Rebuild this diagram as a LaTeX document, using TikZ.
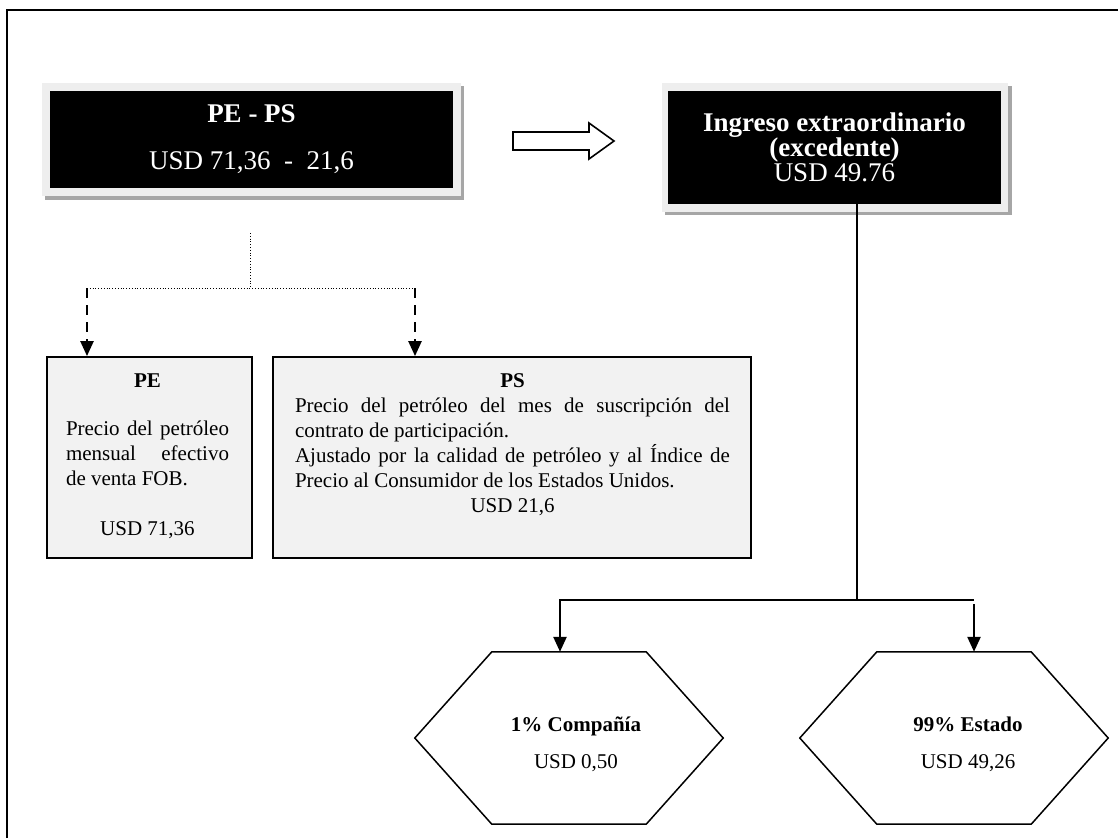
\documentclass[tikz,border=0pt]{standalone}
\usepackage{fontspec}
\setmainfont{Liberation Serif}
\usepackage{xcolor}
\usetikzlibrary{arrows.meta}
\setlength{\parindent}{0pt}
\definecolor{boxgray}{HTML}{F2F2F2}
\definecolor{framegray}{HTML}{EEEEEE}
\definecolor{shadegray}{HTML}{A6A6A6}

\begin{document}
\begin{tikzpicture}[x=1pt,y=-1pt,
    headbox/.style={fill=black, text=white, align=center, inner sep=0pt},
    infobox/.style={draw, line width=1.8pt, fill=boxgray, inner sep=0pt},
    boxtext/.style={anchor=north, inner sep=0pt, align=justify, font=\fontsize{21}{25}\selectfont},
    hexa/.style={inner sep=0pt, minimum width=308, minimum height=172},
    hextext/.style={align=center, inner sep=0pt, font=\fontsize{21}{37}\selectfont},
    link/.style={line width=2.4pt, -{Triangle[width=13pt,length=15pt]}},
    dashlink/.style={line width=2.4pt, dash pattern=on 10pt off 7pt, -{Triangle[width=13pt,length=15pt]}},
    dotline/.style={line width=0.8pt, dotted}]
    \useasboundingbox (0,0) rectangle (1118,838);

    % page frame
    \draw[line width=2.5pt] (7,838) -- (7,10) -- (1118,10);

    % frames round the two black boxes
    \fill[shadegray] (45,86) rectangle (464,200);
    \fill[framegray] (42,83) rectangle (461,196);
    \fill[shadegray] (665,86) rectangle (1012,215);
    \fill[framegray] (662,83) rectangle (1008,212);

    \node[headbox, minimum width=403, minimum height=97, font=\fontsize{27}{47}\selectfont] (peps) at (251.5,139.5)
        {\textbf{PE - PS}\\USD 71,36~~-~~21,6};
    \node[headbox, minimum width=333, minimum height=113, font=\fontsize{27}{25}\selectfont] (ingreso) at (834.5,147.5)
        {\textbf{Ingreso extraordinario}\\\textbf{(excedente)}\\USD 49.76};

    % hollow arrow
    \draw[line width=1.6pt] (513,132) -- (589,132) -- (589,123) -- (614,141) -- (589,159) -- (589,150) -- (513,150) -- cycle;

    \node[infobox, minimum width=205, minimum height=201] (pe) at (149.5,457.5) {};
    \node[infobox, minimum width=478, minimum height=201] (ps) at (512,457.5) {};

    \node[boxtext, text width=163pt] (peTxt) at ([xshift=-2pt,yshift=-17pt]pe.north) {%
        {\centering\bfseries PE\par}\vspace{23pt}
        Precio del petróleo\linebreak mensual efectivo\linebreak de venta FOB.\par\vspace{25pt}
        {\centering USD 71,36\par}};
    \node[boxtext, text width=435pt] (psTxt) at ([xshift=0.5pt,yshift=-17pt]ps.north) {%
        {\centering\bfseries PS\par}
        Precio del petróleo del mes de suscripción del\linebreak contrato de participación.\par
        Ajustado por la calidad de petróleo y al Índice de\linebreak Precio al Consumidor de los Estados Unidos.\par
        {\centering USD 21,6\par}};

    \coordinate (fork) at (250,233);
    \coordinate (forkjoin) at (250,288);
    \coordinate (brL) at (87,288);
    \coordinate (brR) at (415,288);
    \draw[dotline] (fork) -- (forkjoin);
    \draw[dotline] (brL) -- (brR);
    \draw[dashlink] (brL) -- (brL |- pe.north);
    \draw[dashlink] (brR) -- (brR |- ps.north);

    % hexagons
    \node[hexa] (comp) at (569,738) {};
    \node[hexa] (est) at (954,738) {};
    \foreach \h in {comp,est}
        \draw[line width=1.5pt] (\h.west) -- ([xshift=77pt]\h.north west) -- ([xshift=-77pt]\h.north east)
            -- (\h.east) -- ([xshift=-77pt]\h.south east) -- ([xshift=77pt]\h.south west) -- cycle;
    \node[hextext] (compTxt) at (576,744) {\textbf{1\% Compañía}\\USD 0,50};
    \node[hextext] (estTxt) at (968,744) {\textbf{99\% Estado}\\USD 49,26};

    \coordinate (split) at (857,600);
    \coordinate (brA) at (560,600);
    \coordinate (brB) at (974,600);
    \draw[line width=2.4pt] (ingreso.south -| split) -- (split);
    \draw[link] (brB) -- (brA) -- (brA |- comp.north);
    \draw[link] ([yshift=-4pt]brB) -- (brB |- est.north);
\end{tikzpicture}
\end{document}
